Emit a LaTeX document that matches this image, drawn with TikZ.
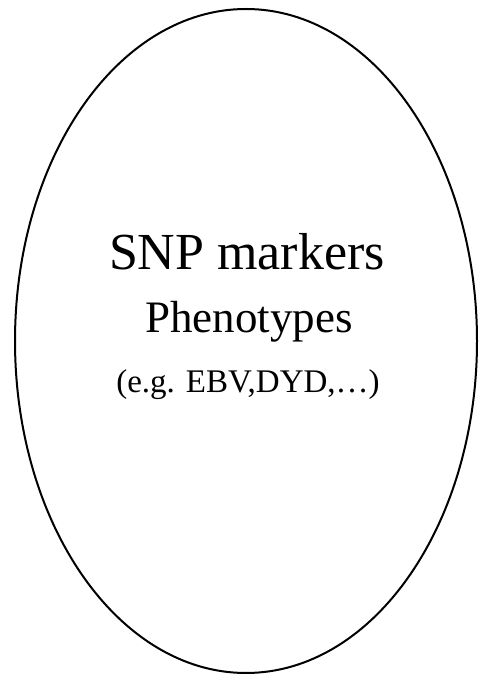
\documentclass[tikz,border=0pt]{standalone}
\usepackage{fontspec}
\setmainfont{Liberation Serif}
\begin{document}
\begin{tikzpicture}[x=1pt,y=1pt,
  label/.style={anchor=base,inner sep=0pt}]
\useasboundingbox (0,0) rectangle (479,675);
% outer ellipse
\draw[line width=2pt] (246,334) ellipse [x radius=231, y radius=332];
% labels
\node[label,font=\fontsize{52}{56}\selectfont] (snp) at (247,405) {SNP markers};
\node[label,font=\fontsize{45}{50}\selectfont] (phen) at (249,342) {Phenotypes};
\node[label,font=\fontsize{33}{38}\selectfont] (eg) at (248,282) {(e.g. EBV,DYD,\ldots)};
\end{tikzpicture}
\end{document}
